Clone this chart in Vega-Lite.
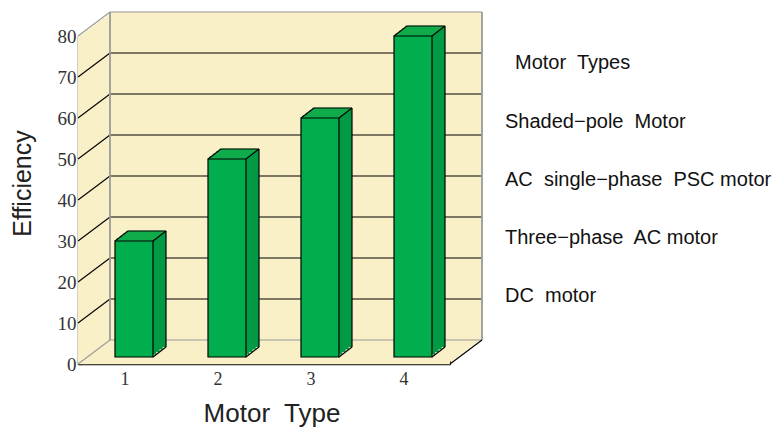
{
  "$schema": "https://vega.github.io/schema/vega-lite/v6.json",
  "width": 372,
  "height": 328,
  "autosize": "none",
  "padding": {"left": 78, "top": 36, "right": 323, "bottom": 64},
  "background": "white",
  "config": {
    "view": {"stroke": null},
    "scale": {"bandPaddingInner": 0, "bandPaddingOuter": 0},
    "axis": {"zindex": 1},
    "axisX": {"tickBand": "extent", "labelAngle": 0, "labelFont": "Liberation Serif", "labelFontSize": 18, "labelColor": "#333",
              "domainColor": "black", "domainWidth": 1.5, "tickColor": "black", "tickSize": -4, "tickWidth": 1.2, "labelPadding": 10, "grid": false,
              "titleFont": "Liberation Sans", "titleFontSize": 26, "titleFontWeight": "normal", "titleColor": "#222",
              "titleX": 193.5, "titleY": 57, "titleAlign": "center", "titleBaseline": "alphabetic"},
    "axisY": {"tickCount": 8, "grid": false, "labelFont": "Liberation Serif", "labelFontSize": 19, "labelColor": "#333",
              "domainColor": "black", "domainWidth": 1.5, "tickColor": "black", "tickSize": -4, "tickWidth": 1.2, "labelPadding": 6,
              "titleFont": "Liberation Sans", "titleFontSize": 25, "titleFontWeight": "normal", "titleColor": "#222",
              "titleX": -56, "titleY": 147, "titleAlign": "center", "titleBaseline": "middle", "titleAngle": -90}
  },
  "datasets": {
    "bars": [
      {"type": 1, "motor": "Shaded−pole\u00a0 Motor", "eff": 30},
      {"type": 2, "motor": "AC\u00a0 single−phase\u00a0 PSC motor", "eff": 50},
      {"type": 3, "motor": "Three−phase\u00a0 AC motor", "eff": 60},
      {"type": 4, "motor": "DC\u00a0 motor", "eff": 80}
    ],
    "grid": [{"g": 0}, {"g": 10}, {"g": 20}, {"g": 30}, {"g": 40}, {"g": 50}, {"g": 60}, {"g": 70}, {"g": 80}]
  },
  "data": {"name": "bars"},
  "layer": [
    {"mark": {"type": "rect", "fill": "#FAF0C8", "stroke": "#FAF0C8", "strokeWidth": 0.6, "xOffset": 0, "yOffset": 0, "y2Offset": 0},
     "encoding": {"x": {"field": "type", "type": "ordinal", "title": "Motor\u00a0 Type", "scale": {"type": "band", "domain": [1, 2, 3, 4]}},
                  "y": {"datum": 80, "type": "quantitative", "title": "Efficiency", "scale": {"domain": [0, 80], "nice": false}}, "y2": {"datum": 0}}},
    {"mark": {"type": "rect", "fill": "#FAF0C8", "stroke": "#FAF0C8", "strokeWidth": 0.6, "xOffset": 4, "yOffset": -3, "y2Offset": -3},
     "encoding": {"x": {"field": "type", "type": "ordinal", "title": "Motor\u00a0 Type"}, "y": {"datum": 80, "type": "quantitative", "title": "Efficiency"}, "y2": {"datum": 0}}},
    {"mark": {"type": "rect", "fill": "#FAF0C8", "stroke": "#FAF0C8", "strokeWidth": 0.6, "xOffset": 8, "yOffset": -6, "y2Offset": -6},
     "encoding": {"x": {"field": "type", "type": "ordinal", "title": "Motor\u00a0 Type"}, "y": {"datum": 80, "type": "quantitative", "title": "Efficiency"}, "y2": {"datum": 0}}},
    {"mark": {"type": "rect", "fill": "#FAF0C8", "stroke": "#FAF0C8", "strokeWidth": 0.6, "xOffset": 12, "yOffset": -9, "y2Offset": -9},
     "encoding": {"x": {"field": "type", "type": "ordinal", "title": "Motor\u00a0 Type"}, "y": {"datum": 80, "type": "quantitative", "title": "Efficiency"}, "y2": {"datum": 0}}},
    {"mark": {"type": "rect", "fill": "#FAF0C8", "stroke": "#FAF0C8", "strokeWidth": 0.6, "xOffset": 16, "yOffset": -12, "y2Offset": -12},
     "encoding": {"x": {"field": "type", "type": "ordinal", "title": "Motor\u00a0 Type"}, "y": {"datum": 80, "type": "quantitative", "title": "Efficiency"}, "y2": {"datum": 0}}},
    {"mark": {"type": "rect", "fill": "#FAF0C8", "stroke": "#FAF0C8", "strokeWidth": 0.6, "xOffset": 20, "yOffset": -15, "y2Offset": -15},
     "encoding": {"x": {"field": "type", "type": "ordinal", "title": "Motor\u00a0 Type"}, "y": {"datum": 80, "type": "quantitative", "title": "Efficiency"}, "y2": {"datum": 0}}},
    {"mark": {"type": "rect", "fill": "#FAF0C8", "stroke": "#FAF0C8", "strokeWidth": 0.6, "xOffset": 24, "yOffset": -18, "y2Offset": -18},
     "encoding": {"x": {"field": "type", "type": "ordinal", "title": "Motor\u00a0 Type"}, "y": {"datum": 80, "type": "quantitative", "title": "Efficiency"}, "y2": {"datum": 0}}},
    {"mark": {"type": "rect", "fill": "#FAF0C8", "stroke": "#FAF0C8", "strokeWidth": 0.6, "xOffset": 28, "yOffset": -21, "y2Offset": -21},
     "encoding": {"x": {"field": "type", "type": "ordinal", "title": "Motor\u00a0 Type"}, "y": {"datum": 80, "type": "quantitative", "title": "Efficiency"}, "y2": {"datum": 0}}},
    {"mark": {"type": "rect", "fill": "#FAF0C8", "stroke": "#FAF0C8", "strokeWidth": 0.6, "xOffset": 32, "yOffset": -24, "y2Offset": -24},
     "encoding": {"x": {"field": "type", "type": "ordinal", "title": "Motor\u00a0 Type"}, "y": {"datum": 80, "type": "quantitative", "title": "Efficiency"}, "y2": {"datum": 0}}},

    {"data": {"name": "grid"},
     "mark": {"type": "rule", "strokeWidth": 1.1, "x2Offset": 32, "y2Offset": -24},
     "encoding": {"x": {"datum": 1, "type": "ordinal", "bandPosition": 0, "title": "Motor\u00a0 Type"}, "x2": {"datum": 1, "bandPosition": 0},
                  "y": {"field": "g", "type": "quantitative", "title": "Efficiency"}, "y2": {"field": "g"},
                  "stroke": {"condition": {"test": "datum.g == 0 || datum.g == 80", "value": "#9A9A9A"}, "value": "black"}}},
    {"data": {"name": "grid"},
     "mark": {"type": "rule", "strokeWidth": 1.2, "xOffset": 32, "x2Offset": 32, "yOffset": -24, "y2Offset": -24},
     "encoding": {"x": {"datum": 1, "type": "ordinal", "bandPosition": 0, "title": "Motor\u00a0 Type"}, "x2": {"datum": 4, "bandPosition": 1},
                  "y": {"field": "g", "type": "quantitative", "title": "Efficiency"}, "y2": {"field": "g"},
                  "stroke": {"condition": {"test": "datum.g == 0 || datum.g == 80", "value": "#9A9A9A"}, "value": "black"},
                  "strokeWidth": {"condition": {"test": "datum.g == 0 || datum.g == 80", "value": 1.8}, "value": 1.2}}},
    {"data": {"name": "grid"}, "transform": [{"filter": "datum.g == 0"}],
     "mark": {"type": "rule", "stroke": "#9A9A9A", "strokeWidth": 1.8, "xOffset": 32, "yOffset": -24, "y2Offset": -24},
     "encoding": {"x": {"datum": 1, "type": "ordinal", "bandPosition": 0, "title": "Motor\u00a0 Type"},
                  "y": {"datum": 0, "type": "quantitative", "title": "Efficiency"}, "y2": {"datum": 80}}},
    {"data": {"name": "grid"}, "transform": [{"filter": "datum.g == 0"}],
     "mark": {"type": "rule", "stroke": "#9A9A9A", "strokeWidth": 1.8, "xOffset": 32, "yOffset": -24, "y2Offset": -24},
     "encoding": {"x": {"datum": 4, "type": "ordinal", "bandPosition": 1, "title": "Motor\u00a0 Type"},
                  "y": {"datum": 0, "type": "quantitative", "title": "Efficiency"}, "y2": {"datum": 80}}},
    {"data": {"name": "grid"}, "transform": [{"filter": "datum.g == 0"}],
     "mark": {"type": "rule", "stroke": "black", "strokeWidth": 1.2, "x2Offset": 32, "y2Offset": -24},
     "encoding": {"x": {"datum": 4, "type": "ordinal", "bandPosition": 1, "title": "Motor\u00a0 Type"}, "x2": {"datum": 4, "bandPosition": 1},
                  "y": {"datum": 0, "type": "quantitative", "title": "Efficiency"}, "y2": {"datum": 0}}},

    {"mark": {"type": "bar", "fill": "#009A45", "width": 38, "xOffset": 12.75, "yOffset": -2.5, "y2Offset": -9.5},
     "encoding": {"x": {"field": "type", "type": "ordinal", "title": "Motor\u00a0 Type"}, "y": {"field": "eff", "type": "quantitative", "title": "Efficiency"}, "y2": {"datum": 0}}},
    {"mark": {"type": "bar", "fill": "#009A45", "width": 38, "xOffset": 16, "yOffset": -5, "y2Offset": -12},
     "encoding": {"x": {"field": "type", "type": "ordinal", "title": "Motor\u00a0 Type"}, "y": {"field": "eff", "type": "quantitative", "title": "Efficiency"}, "y2": {"datum": 0}}},
    {"mark": {"type": "bar", "fill": "#009A45", "width": 38, "xOffset": 19.25, "yOffset": -7.5, "y2Offset": -14.5},
     "encoding": {"x": {"field": "type", "type": "ordinal", "title": "Motor\u00a0 Type"}, "y": {"field": "eff", "type": "quantitative", "title": "Efficiency"}, "y2": {"datum": 0}}},
    {"mark": {"type": "bar", "fill": "#009A45", "width": 38, "xOffset": 22.5, "yOffset": -10, "y2Offset": -17},
     "encoding": {"x": {"field": "type", "type": "ordinal", "title": "Motor\u00a0 Type"}, "y": {"field": "eff", "type": "quantitative", "title": "Efficiency"}, "y2": {"datum": 0}}},

    {"mark": {"type": "rule", "stroke": "#10AB4B", "strokeWidth": 2.8, "xOffset": -7.875, "x2Offset": 30.125, "yOffset": -1.25, "y2Offset": -1.25},
     "encoding": {"x": {"field": "type", "type": "ordinal", "title": "Motor\u00a0 Type"}, "x2": {"field": "type"}, "y": {"field": "eff", "type": "quantitative", "title": "Efficiency"}, "y2": {"field": "eff"}}},
    {"mark": {"type": "rule", "stroke": "#10AB4B", "strokeWidth": 2.8, "xOffset": -4.625, "x2Offset": 33.375, "yOffset": -3.75, "y2Offset": -3.75},
     "encoding": {"x": {"field": "type", "type": "ordinal", "title": "Motor\u00a0 Type"}, "x2": {"field": "type"}, "y": {"field": "eff", "type": "quantitative", "title": "Efficiency"}, "y2": {"field": "eff"}}},
    {"mark": {"type": "rule", "stroke": "#10AB4B", "strokeWidth": 2.8, "xOffset": -1.375, "x2Offset": 36.625, "yOffset": -6.25, "y2Offset": -6.25},
     "encoding": {"x": {"field": "type", "type": "ordinal", "title": "Motor\u00a0 Type"}, "x2": {"field": "type"}, "y": {"field": "eff", "type": "quantitative", "title": "Efficiency"}, "y2": {"field": "eff"}}},
    {"mark": {"type": "rule", "stroke": "#10AB4B", "strokeWidth": 2.8, "xOffset": 1.875, "x2Offset": 39.875, "yOffset": -8.75, "y2Offset": -8.75},
     "encoding": {"x": {"field": "type", "type": "ordinal", "title": "Motor\u00a0 Type"}, "x2": {"field": "type"}, "y": {"field": "eff", "type": "quantitative", "title": "Efficiency"}, "y2": {"field": "eff"}}},

    {"mark": {"type": "bar", "stroke": "black", "strokeWidth": 1.2, "width": 38, "xOffset": 9.5, "y2Offset": -7},
     "encoding": {
       "x": {"field": "type", "type": "ordinal", "title": "Motor\u00a0 Type"},
       "y": {"field": "eff", "type": "quantitative", "title": "Efficiency"},
       "y2": {"datum": 0},
       "color": {"field": "motor", "type": "nominal",
                 "scale": {"domain": ["Shaded−pole\u00a0 Motor", "AC\u00a0 single−phase\u00a0 PSC motor", "Three−phase\u00a0 AC motor", "DC\u00a0 motor"],
                           "range": ["#00AE4D", "#00AE4D", "#00AE4D", "#00AE4D"]},
                 "legend": {"title": "Motor\u00a0 Types", "orient": "none", "legendX": 437, "legendY": 17,
                            "titleFont": "Liberation Sans", "titleFontSize": 20, "titleFontWeight": "normal", "titleColor": "#111", "titlePadding": 39,
                            "labelFont": "Liberation Sans", "labelFontSize": 20, "labelColor": "#111", "labelOffset": -30, "labelLimit": 400,
                            "symbolSize": 0, "symbolOpacity": 0, "symbolStrokeWidth": 0, "rowPadding": 38}}}},

    {"mark": {"type": "rule", "stroke": "black", "strokeWidth": 1.2, "xOffset": -9.5, "x2Offset": 3.5, "y2Offset": -10},
     "encoding": {"x": {"field": "type", "type": "ordinal", "title": "Motor\u00a0 Type"}, "x2": {"field": "type"}, "y": {"field": "eff", "type": "quantitative", "title": "Efficiency"}, "y2": {"field": "eff"}}},
    {"mark": {"type": "rule", "stroke": "black", "strokeWidth": 1.2, "xOffset": 28.5, "x2Offset": 41.5, "y2Offset": -10},
     "encoding": {"x": {"field": "type", "type": "ordinal", "title": "Motor\u00a0 Type"}, "x2": {"field": "type"}, "y": {"field": "eff", "type": "quantitative", "title": "Efficiency"}, "y2": {"field": "eff"}}},
    {"mark": {"type": "rule", "stroke": "black", "strokeWidth": 1.2, "xOffset": 3.5, "x2Offset": 41.5, "yOffset": -10, "y2Offset": -10},
     "encoding": {"x": {"field": "type", "type": "ordinal", "title": "Motor\u00a0 Type"}, "x2": {"field": "type"}, "y": {"field": "eff", "type": "quantitative", "title": "Efficiency"}, "y2": {"field": "eff"}}},
    {"mark": {"type": "rule", "stroke": "black", "strokeWidth": 1.2, "xOffset": 41.5, "yOffset": -10, "y2Offset": -17},
     "encoding": {"x": {"field": "type", "type": "ordinal", "title": "Motor\u00a0 Type"}, "y": {"field": "eff", "type": "quantitative", "title": "Efficiency"}, "y2": {"datum": 0}}},
    {"mark": {"type": "rule", "stroke": "black", "strokeWidth": 1.2, "xOffset": 28.5, "x2Offset": 41.5, "yOffset": -7, "y2Offset": -17},
     "encoding": {"x": {"field": "type", "type": "ordinal", "title": "Motor\u00a0 Type"}, "x2": {"field": "type"}, "y": {"datum": 0, "type": "quantitative", "title": "Efficiency"}, "y2": {"datum": 0}}}
  ]
}
